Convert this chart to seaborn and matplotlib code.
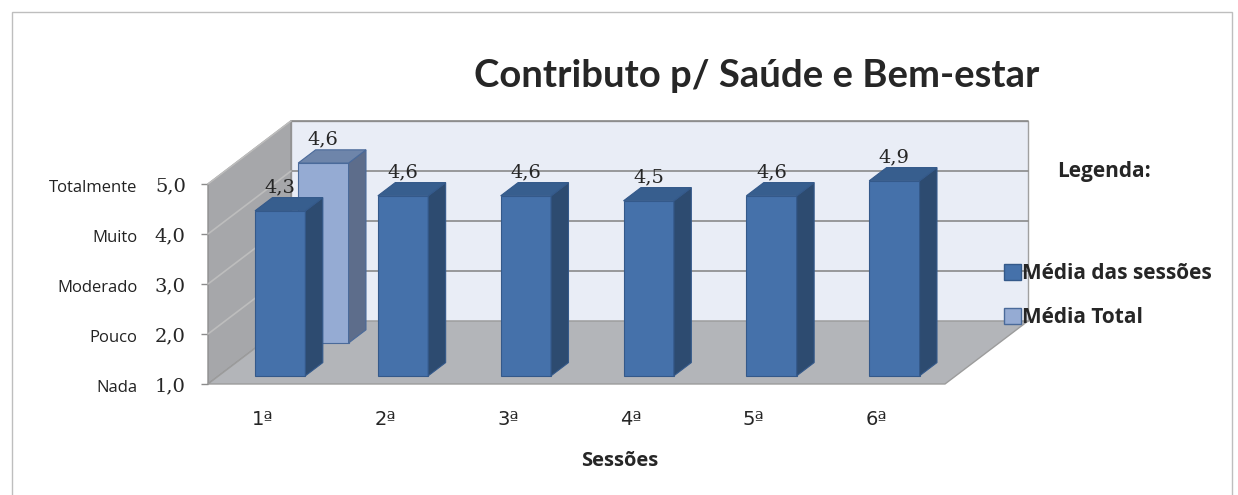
import matplotlib
matplotlib.use("Agg")
import matplotlib.pyplot as plt
import matplotlib.transforms as mtransforms
from matplotlib.patches import Polygon, Patch, Rectangle
import seaborn as sns
import pandas as pd

# data
sessoes = ["1ª", "2ª", "3ª", "4ª", "5ª", "6ª"]
media_sessoes = [4.3, 4.6, 4.6, 4.5, 4.6, 4.9]
total_sessao = ["1ª"]
media_total = [4.6]
y_ticks = [1, 2, 3, 4, 5]
y_words = ["Nada", "Pouco", "Moderado", "Muito", "Totalmente"]
series = ["Média das sessões", "Média Total"]

W, H = 1238, 495
# fake 3D projection, in data units
DX = 83 / (737 / 6)
DY = 63 / 50
DEPTH = 0.21
Z_FRONT = 0.13
Z_BACK = 0.65
FLOOR = 1

dark = ("#4571AA", "#2D4B70", "#375E8E", "#34598A")
light = ("#95ABD3", "#5D6D8B", "#6E85AA", "#4A6A9A")
NUM_FONT = ["DejaVu Serif"]

sns.set_style("white")
plt.rcParams["font.family"] = ["Open Sans", "DejaVu Sans"]

fig = plt.figure(figsize=(W / 100, H / 100), dpi=100)
ax = fig.add_axes([208 / W, (H - 384) / H, 737 / W, 200 / H])

df_s = pd.DataFrame({"Sessão": sessoes, "Média": media_sessoes})
df_t = pd.DataFrame({"Sessão": total_sessao, "Média": media_total})

sns.barplot(data=df_t, x="Sessão", y="Média", order=sessoes, width=0.41,
            color=light[0], saturation=1, errorbar=None, ax=ax)
back_bars = [p for p in ax.patches]
sns.barplot(data=df_s, x="Sessão", y="Média", order=sessoes, width=0.41,
            color=dark[0], saturation=1, errorbar=None, ax=ax)
front_bars = [p for p in ax.patches if p not in back_bars]

ax.set_xlim(-0.5, len(sessoes) - 0.5)
ax.set_ylim(1, 5)
ax.patch.set_visible(False)
for s in ax.spines.values():
    s.set_visible(False)

# walls and floor
x0, x1 = -0.5, len(sessoes) - 0.5
wall_kw = dict(clip_on=False, zorder=0.5, lw=1)
ax.add_patch(Polygon([(x0 + DX, 1 + DY), (x1 + DX, 1 + DY), (x1 + DX, 5 + DY), (x0 + DX, 5 + DY)],
                     facecolor="#E9EDF6", edgecolor="#A0A0A0", **wall_kw))
ax.add_patch(Polygon([(x0, 1), (x0 + DX, 1 + DY), (x0 + DX, 5 + DY), (x0, 5)],
                     facecolor="#A6A7AA", edgecolor="#8E8E8E", **wall_kw))
ax.add_patch(Polygon([(x0, 1), (x1, 1), (x1 + DX, 1 + DY), (x0 + DX, 1 + DY)],
                     facecolor="#B3B5B9", edgecolor="#9C9C9C", **wall_kw))
for v in y_ticks[1:]:
    ax.plot([x0 + DX, x1 + DX], [v + DY, v + DY], color="#8A8A8A", lw=1.2, zorder=0.6, clip_on=False)
    ax.plot([x0, x0 + DX], [v, v + DY], color="#BDBDBD", lw=1.2, zorder=0.6, clip_on=False)


def extrude(bar, z0, cols, zorder):
    x, w, h = bar.get_x(), bar.get_width(), bar.get_height()
    ox, oy = z0 * DX, z0 * DY
    bx0, bx1 = x + ox, x + ox + w
    by0, by1 = FLOOR + oy, h + oy
    bar.set_x(bx0)
    bar.set_y(by0)
    bar.set_height(h - FLOOR)
    bar.set_edgecolor(cols[3])
    bar.set_linewidth(0.8)
    bar.set_zorder(zorder)
    bar.set_clip_on(False)
    dx, dy = DEPTH * DX, DEPTH * DY
    ax.add_patch(Polygon([(bx1, by0), (bx1 + dx, by0 + dy), (bx1 + dx, by1 + dy), (bx1, by1)],
                         facecolor=cols[1], edgecolor=cols[3], lw=0.8, zorder=zorder, clip_on=False))
    ax.add_patch(Polygon([(bx0, by1), (bx1, by1), (bx1 + dx, by1 + dy), (bx0 + dx, by1 + dy)],
                         facecolor=cols[2], edgecolor=cols[3], lw=0.8, zorder=zorder, clip_on=False))
    ax.annotate(f"{h:.1f}".replace(".", ","), xy=(bx0 + w / 2, by1 + dy), xytext=(0, 1),
                textcoords="offset points", ha="center", va="bottom", fontsize=14,
                family=NUM_FONT, zorder=zorder + 0.5, annotation_clip=False)


for b in back_bars:
    extrude(b, Z_BACK, light, 3)
for b in front_bars:
    extrude(b, Z_FRONT, dark, 4)

# axes text
ax.set_yticks(y_ticks)
ax.set_yticklabels([f"{v:.1f}".replace(".", ",") for v in y_ticks], family=NUM_FONT, fontsize=14)
ax.tick_params(axis="y", left=True, length=5, width=1, color="#8C8C8C", pad=11)
for v, word in zip(y_ticks, y_words):
    ax.annotate(word, xy=(x0, v), xytext=(-51, -3), textcoords="offset points",
                ha="right", va="center", fontsize=12, color="#222222", annotation_clip=False)
ax.set_xticks(range(len(sessoes)))
ax.set_xticklabels(sessoes, fontsize=14, family=["DejaVu Sans"])
ax.tick_params(axis="x", bottom=False, pad=15)
shift = mtransforms.ScaledTranslation(-7 / 100, 0, fig.dpi_scale_trans)
for lab in ax.get_xticklabels():
    lab.set_transform(lab.get_transform() + shift)
ax.set_xlabel("")
ax.set_ylabel("")

fig.text(620 / W, 1 - 461 / H, "Sessões", ha="center", va="center", fontsize=14.5, fontweight="bold")
fig.text(757 / W, 1 - 76 / H, "Contributo p/ Saúde e Bem-estar", ha="center", va="center",
         fontsize=27.5, fontweight="bold", family=["Lato"])
fig.text(1057 / W, 1 - 172 / H, "Legenda:", ha="left", va="center", fontsize=15, fontweight="bold")

handles = [Patch(facecolor=dark[0], edgecolor=dark[3]), Patch(facecolor=light[0], edgecolor=light[3])]
leg = fig.legend(handles, series, loc="upper left", bbox_to_anchor=(994 / W, 1 - 253 / H),
                 frameon=False, fontsize=15, handlelength=0.8, handleheight=0.8,
                 handletextpad=0.05, labelspacing=1.1, borderpad=0)
for t in leg.get_texts():
    t.set_fontweight("bold")

fig.add_artist(Rectangle((12 / W, -0.1), 1220 / W, (H - 12) / H + 0.1, transform=fig.transFigure,
                         fill=False, edgecolor="#BEBEBE", lw=1))

fig.savefig("out.png", dpi=100)
